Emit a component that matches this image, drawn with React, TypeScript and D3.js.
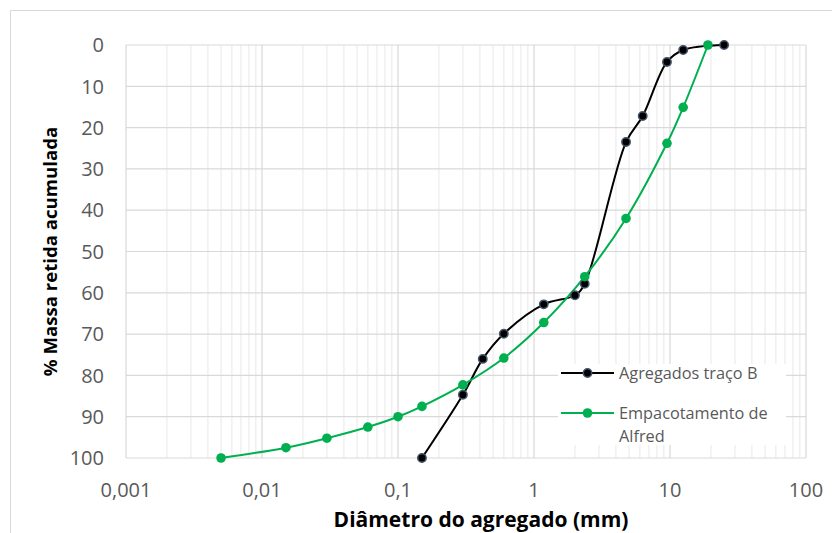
import * as d3 from 'd3';

// Agregados traço B
const diamB = [25, 12.5, 9.5, 6.3, 4.75, 2.36, 2.0, 1.18, 0.6, 0.42, 0.3, 0.15];
const retB = [0, 1.2, 4.1, 17.2, 23.5, 57.8, 60.6, 62.8, 69.9, 76.0, 84.7, 100];

// Empacotamento de Alfred
const diamA = [19, 12.5, 9.5, 4.75, 2.36, 1.18, 0.6, 0.3, 0.15, 0.1, 0.06, 0.03, 0.015, 0.005];
const retA = [0, 15.1, 23.8, 42.0, 56.1, 67.2, 75.8, 82.3, 87.5, 90, 92.5, 95.2, 97.5, 100];

const xTicks = [0.001, 0.01, 0.1, 1, 10, 100];
const xTickLabels = ['0,001', '0,01', '0,1', '1', '10', '100'];
const yTicks = [0, 10, 20, 30, 40, 50, 60, 70, 80, 90, 100];

const W = 832;
const H = 533;
const font = '"Open Sans", sans-serif';

export default function App() {
  const x = d3.scaleLog().domain([0.001, 100]).range([126, 806]);
  const y = d3.scaleLinear().domain([0, 100]).range([45, 458]);

  const minor: number[] = [];
  xTicks.slice(0, -1).forEach((d) => {
    for (let k = 2; k <= 9; k++) minor.push(d * k);
  });

  const line = d3
    .line<[number, number]>()
    .x((d) => x(d[0]))
    .y((d) => y(d[1]))
    .curve(d3.curveCatmullRom.alpha(0.5));

  const ptsB = diamB.map((d, i) => [d, retB[i]] as [number, number]);
  const ptsA = diamA.map((d, i) => [d, retA[i]] as [number, number]);

  return (
    <svg
      width={W}
      height={H}
      style={{ position: 'absolute', left: 0, top: 0, background: '#fff' }}
      fontFamily={font}
    >
      <rect x={10.5} y={10.5} width={840} height={540} fill="#fff" stroke="#d9d9d9" />

      {/* gridlines */}
      {minor.map((d) => (
        <line key={'m' + d} x1={x(d)} x2={x(d)} y1={y(0)} y2={y(100)} stroke="#f0f0f0" strokeWidth={1.5} />
      ))}
      {yTicks.map((t) => (
        <line key={'h' + t} x1={x(0.001)} x2={x(100)} y1={y(t)} y2={y(t)} stroke="#d9d9d9" strokeWidth={1.2} />
      ))}
      {xTicks.map((t) => (
        <line key={'v' + t} x1={x(t)} x2={x(t)} y1={y(0)} y2={y(100)} stroke="#d9d9d9" strokeWidth={1.2} />
      ))}

      {/* tick labels */}
      {yTicks.map((t) => (
        <text key={'yl' + t} x={104} y={y(t)} dy="0.36em" textAnchor="end" fontSize={20} fill="#595959">
          {t}
        </text>
      ))}
      {xTicks.map((t, i) => (
        <text key={'xl' + t} x={x(t)} y={497} textAnchor="middle" fontSize={20} fill="#595959">
          {xTickLabels[i]}
        </text>
      ))}

      {/* axis titles */}
      <text
        transform={`translate(57,${(y(0) + y(100)) / 2}) rotate(-90)`}
        textAnchor="middle"
        fontSize={18.6}
        fontWeight="bold"
        fill="#000"
      >
        % Massa retida acumulada
      </text>
      <text x={481} y={527} textAnchor="middle" fontSize={21} fontWeight="bold" fill="#000">
        Diâmetro do agregado (mm)
      </text>

      {/* series */}
      <path d={line(ptsB) || ''} fill="none" stroke="#000" strokeWidth={2} />
      <path d={line(ptsA) || ''} fill="none" stroke="#00b050" strokeWidth={2} />
      {ptsB.map((p, i) => (
        <circle key={'b' + i} cx={x(p[0])} cy={y(p[1])} r={4.2} fill="#000" stroke="#44546a" strokeWidth={1.5} />
      ))}
      {ptsA.map((p, i) => (
        <circle key={'a' + i} cx={x(p[0])} cy={y(p[1])} r={4.8} fill="#00b050" />
      ))}

      {/* legend */}
      <rect x={558} y={364} width={228} height={81} fill="#fff" />
      <line x1={561} x2={614} y1={373} y2={373} stroke="#000" strokeWidth={2} />
      <circle cx={587.5} cy={373} r={4.2} fill="#000" stroke="#44546a" strokeWidth={1.5} />
      <text x={619} y={373} dy="0.35em" fontSize={16.3} fill="#595959">
        Agregados traço B
      </text>
      <line x1={561} x2={614} y1={413} y2={413} stroke="#00b050" strokeWidth={2} />
      <circle cx={587.5} cy={413} r={4.8} fill="#00b050" />
      <text x={619} y={413} dy="0.35em" fontSize={16.3} fill="#595959">
        Empacotamento de
      </text>
      <text x={619} y={436} dy="0.35em" fontSize={16.3} fill="#595959">
        Alfred
      </text>
    </svg>
  );
}
